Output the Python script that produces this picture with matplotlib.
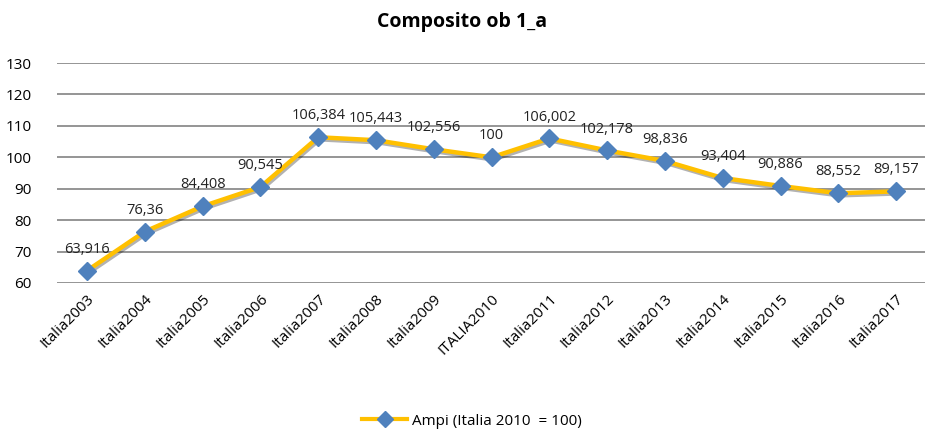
import matplotlib
matplotlib.use("Agg")
import matplotlib.pyplot as plt
import matplotlib.patheffects as pe

# data
categories = ["Italia2003", "Italia2004", "Italia2005", "Italia2006", "Italia2007",
              "Italia2008", "Italia2009", "ITALIA2010", "Italia2011", "Italia2012",
              "Italia2013", "Italia2014", "Italia2015", "Italia2016", "Italia2017"]
values = [63.916, 76.36, 84.408, 90.545, 106.384, 105.443, 102.556, 100,
          106.002, 102.178, 98.836, 93.404, 90.886, 88.552, 89.157]
labels = ["63,916", "76,36", "84,408", "90,545", "106,384", "105,443", "102,556", "100",
          "106,002", "102,178", "98,836", "93,404", "90,886", "88,552", "89,157"]
yticks = [60, 70, 80, 90, 100, 110, 120, 130]

plt.rcParams['font.family'] = ['Open Sans', 'DejaVu Sans']

fig = plt.figure(figsize=(9.25, 4.32), dpi=100)
ax = fig.add_axes([0.0616, 0.345, 0.9384, 0.509])

x = list(range(len(categories)))
# yellow line with a soft shadow, markers on top without shadow
ln, = ax.plot(x, values, color="#FFC000", lw=3.2, zorder=3)
ln.set_path_effects([pe.SimpleLineShadow(offset=(1, -1.5), alpha=0.3), pe.Normal()])
ax.plot(x, values, ls="none", marker="D", markersize=9,
        markerfacecolor="#4F81BD", markeredgecolor="#4F81BD", zorder=4)

for xi, v, t in zip(x, values, labels):
    ax.annotate(t, (xi, v), xytext=(0, 10), textcoords="offset points",
                ha="center", va="bottom", fontsize=10.5, color="#222222")

ax.set_xlim(-0.52, 14.5)
ax.set_ylim(60, 130)
ax.set_yticks(yticks)
ax.set_xticks(x)
ax.set_xticklabels(categories, rotation=45, ha="right", rotation_mode="anchor", fontsize=11)
ax.tick_params(axis="y", labelsize=11, length=0, pad=18)
ax.tick_params(axis="x", length=0, pad=6)
ax.grid(axis="y", color="#8c8c8c", lw=1.3)
ax.set_axisbelow(True)
for s in ax.spines.values():
    s.set_visible(False)

fig.text(0.5, 0.948, "Composito ob 1_a", ha="center", va="center",
         fontsize=14, fontweight="bold")

handle = plt.Line2D([], [], color="#FFC000", lw=3, marker="D", markersize=8,
                    markerfacecolor="#4F81BD", markeredgecolor="#4F81BD")
fig.legend(handles=[handle], labels=["Ampi (Italia 2010  = 100)"], loc="center",
           bbox_to_anchor=(0.51, 0.025), frameon=False, fontsize=11,
           handlelength=3, handletextpad=0.3)

fig.savefig("out.png", dpi=100)
